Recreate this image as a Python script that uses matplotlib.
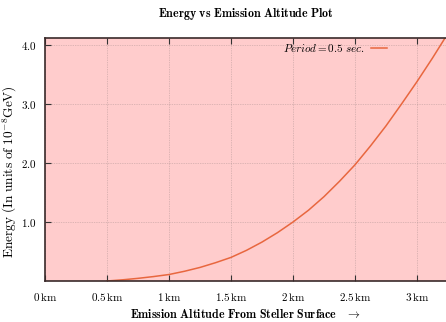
import matplotlib
matplotlib.use("Agg")
import matplotlib.pyplot as plt

plt.rcParams["mathtext.fontset"] = "cm"
plt.rcParams["font.family"] = ["DejaVu Serif"]

# altitude (km) and energy (1e-8 GeV)
altitude_km = [0.5, 0.625, 0.75, 0.875, 1.0, 1.125, 1.25, 1.375, 1.5, 1.625, 1.75,
               1.875, 2.0, 2.125, 2.25, 2.375, 2.5, 2.625, 2.75, 2.875, 3.0, 3.125, 3.25]
energy = [0.0, 0.02, 0.045, 0.075, 0.11, 0.165, 0.23, 0.31, 0.40, 0.52, 0.66,
          0.82, 1.0, 1.2, 1.43, 1.69, 1.97, 2.29, 2.63, 3.0, 3.38, 3.78, 4.2]

x_ticks = [0, 0.5, 1, 1.5, 2, 2.5, 3]
x_labels = ["0", "0.5", "1", "1.5", "2", "2.5", "3"]
y_ticks = [1.0, 2.0, 3.0, 4.0]

LINE_COLOR = "#e8673f"
BG_COLOR = "#ffcccc"

fig = plt.figure(figsize=(4.46, 3.22), dpi=100)
ax = fig.add_axes([45 / 446, 41 / 322, 401 / 446, 243 / 322])
ax.set_facecolor(BG_COLOR)

ax.plot(altitude_km, energy, color=LINE_COLOR, linewidth=1.1,
        label=r"$Period = 0.5\ sec.$")

ax.set_xlim(0, 3.234)
ax.set_ylim(0, 4.12)
ax.set_xticks(x_ticks)
ax.set_xticklabels([r"$\mathrm{%s\,km}$" % s for s in x_labels], fontsize=8)
ax.set_yticks(y_ticks)
ax.set_yticklabels([r"$\mathrm{%.1f}$" % v for v in y_ticks], fontsize=8)
ax.tick_params(axis="x", direction="in", length=4, width=0.8, top=True, color="#333333", pad=7)
ax.tick_params(axis="y", direction="in", length=4, width=0.8, color="#333333", pad=6)
ax.grid(True, color="#a08888", linewidth=0.5, linestyle=(0, (1, 1.5)), alpha=0.7)

for side in ("left", "bottom", "top"):
    ax.spines[side].set_linewidth(1.2)
    ax.spines[side].set_color("#3a2a2a")
ax.spines["right"].set_visible(False)

ax.set_title(r"$\mathbf{Energy\ vs\ Emission\ Altitude\ Plot}$", fontsize=8.6, pad=15)
ax.set_xlabel(r"$\mathbf{Emission\ Altitude\ From\ Steller\ Surface}\quad\rightarrow$",
              fontsize=8.6, labelpad=4)
ax.set_ylabel(r"$\mathrm{Energy\ (In\ units\ of\ 10^{-8}GeV)}$", fontsize=9.6)
ax.yaxis.set_label_coords(-0.066, 0.45)

ax.legend(loc="upper right", bbox_to_anchor=(0.877, 1.025), frameon=False,
          markerfirst=False, handlelength=1.4, handletextpad=0.6, fontsize=8)

fig.savefig("out.png", dpi=100)
